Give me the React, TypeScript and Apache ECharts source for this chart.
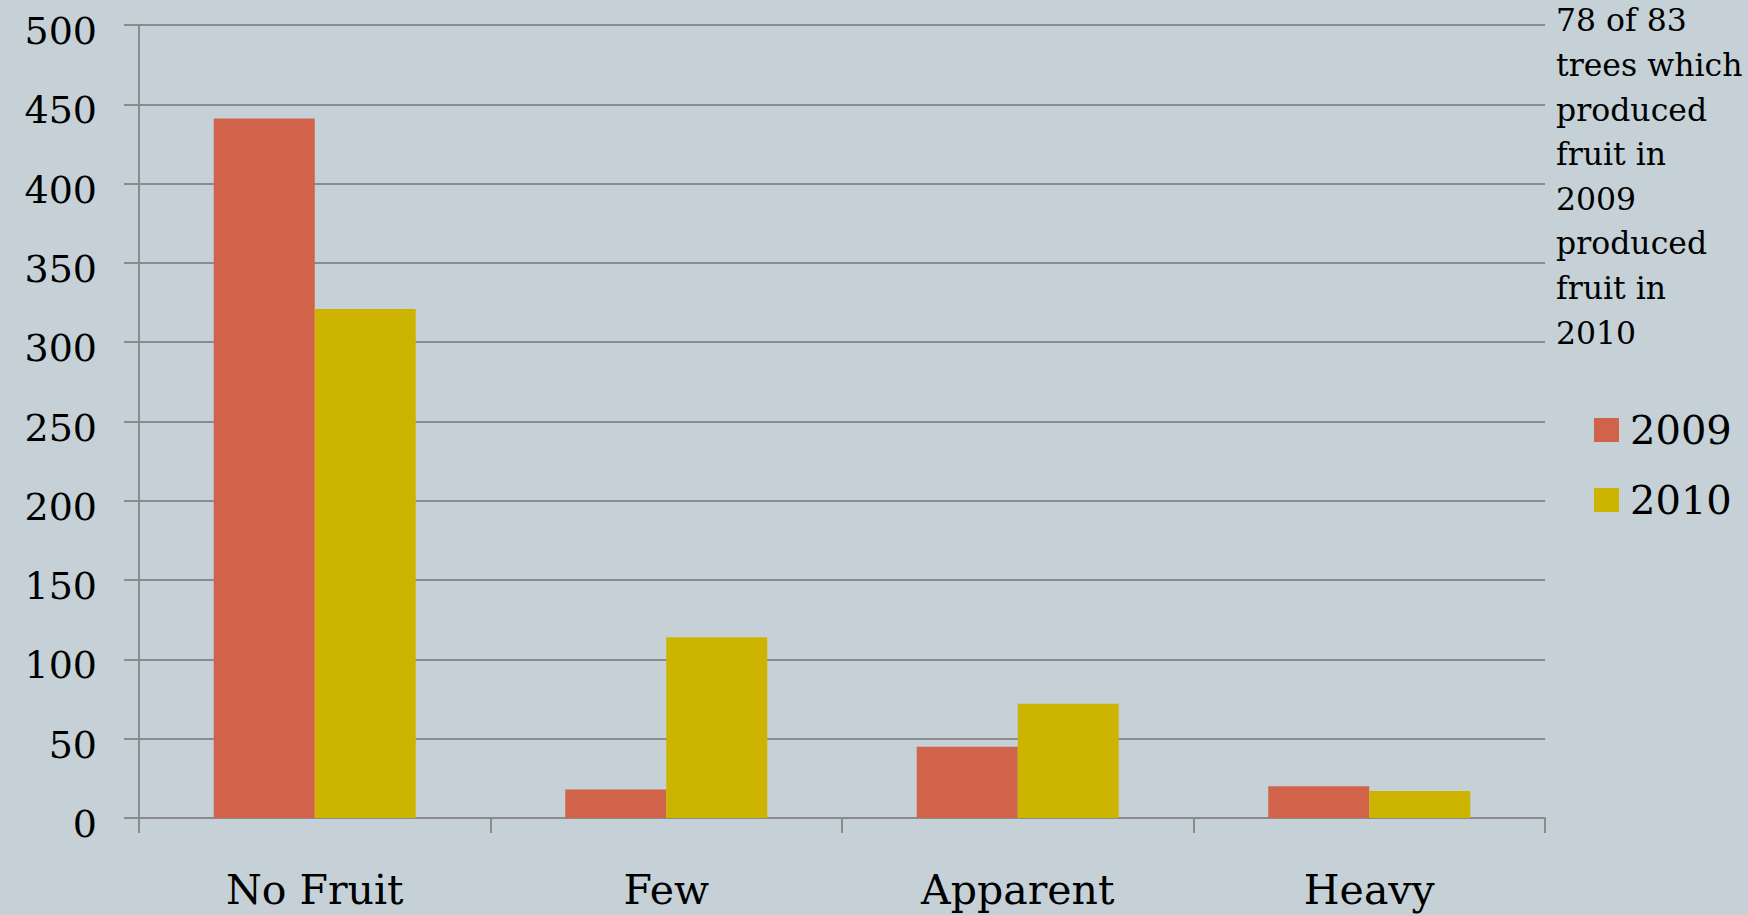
import React, { useEffect, useRef } from "react";
import * as echarts from "echarts";

const categories = ["No Fruit", "Few", "Apparent", "Heavy"];
const seriesNames = ["2009", "2010"];
const values2009 = [441, 18, 45, 20];
const values2010 = [321, 114, 72, 17];
const noteLines = [
  "78 of 83",
  "trees which",
  "produced",
  "fruit in",
  "2009",
  "produced",
  "fruit in",
  "2010",
];

const FONT = "'DejaVu Serif', Georgia, serif";
const GRID = "#8b8b8b";

export default function App() {
  const ref = useRef<HTMLDivElement>(null);
  useEffect(() => {
    if (!ref.current) return;
    const chart = echarts.init(ref.current, null, { renderer: "svg" });
    chart.setOption({
      animation: false,
      backgroundColor: "#c5d1d7",
      textStyle: { fontFamily: FONT },
      grid: { left: 139, right: 203, top: 25, bottom: 97, containLabel: false },
      legend: {
        orient: "vertical",
        left: 1589,
        top: 405,
        itemWidth: 25,
        itemHeight: 24,
        itemGap: 30,
        icon: "rect",
        data: seriesNames,
        textStyle: {
          fontFamily: FONT,
          fontSize: 40,
          lineHeight: 40,
          color: "#000",
          padding: [0, 0, 0, 6],
        },
      },
      graphic: [
        {
          type: "text",
          left: 1556,
          top: -2,
          style: {
            text: noteLines.join("\n"),
            font: `31.5px ${FONT}`,
            fill: "#000",
            lineHeight: 44.6,
          },
        },
      ],
      xAxis: {
        type: "category",
        data: categories,
        axisLine: { lineStyle: { color: GRID, width: 2 } },
        axisTick: { show: true, length: 15, lineStyle: { color: GRID, width: 2 } },
        axisLabel: {
          margin: 51,
          fontFamily: FONT,
          fontSize: 41,
          color: "#000",
        },
      },
      yAxis: {
        type: "value",
        min: 0,
        max: 500,
        interval: 50,
        axisLine: { show: true, lineStyle: { color: GRID, width: 2 } },
        axisTick: { show: true, length: 15, lineStyle: { color: GRID, width: 2 } },
        splitLine: { lineStyle: { color: GRID, width: 2 } },
        axisLabel: {
          margin: 42,
          fontFamily: FONT,
          fontSize: 38,
          color: "#000",
          verticalAlign: "top",
          lineHeight: 12,
        },
      },
      series: [
        {
          name: seriesNames[0],
          type: "bar",
          data: values2009,
          barWidth: 101,
          barGap: "0%",
          itemStyle: { color: "#d1634a" },
        },
        {
          name: seriesNames[1],
          type: "bar",
          data: values2010,
          barWidth: 101,
          barGap: "0%",
          itemStyle: { color: "#ccb400" },
        },
      ],
    });
    return () => chart.dispose();
  }, []);
  return (
    <div
      ref={ref}
      style={{ position: "absolute", left: 0, top: 0, width: 1748, height: 915 }}
    />
  );
}
